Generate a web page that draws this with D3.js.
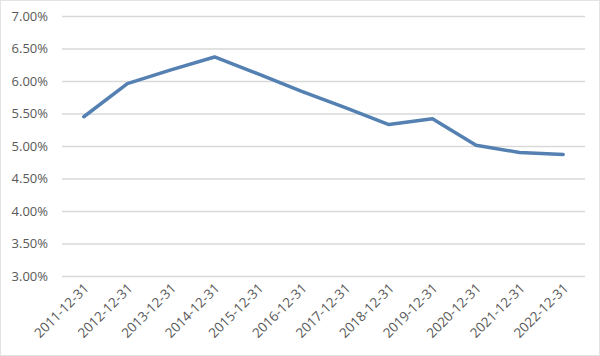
<!DOCTYPE html>
<html><head><meta charset="utf-8">
<script src="https://cdn.jsdelivr.net/npm/d3@7"></script>
<style>body{margin:0;background:#fff}svg{display:block}</style>
</head><body>
<script>
const categories = ["2011-12-31","2012-12-31","2013-12-31","2014-12-31","2015-12-31","2016-12-31","2017-12-31","2018-12-31","2019-12-31","2020-12-31","2021-12-31","2022-12-31"];
const values = [0.0545,0.0596,0.0617,0.0637,0.0611,0.0584,0.0559,0.0533,0.0542,0.0501,0.0490,0.0487];
const yTicks = [0.03,0.035,0.04,0.045,0.05,0.055,0.06,0.065,0.07];

const W=600,H=356;
const svg=d3.select("body").append("svg").attr("width",W).attr("height",H);
svg.append("rect").attr("x",0.5).attr("y",0.5).attr("width",W-1).attr("height",H-1).attr("fill","#fff").attr("stroke","#e3e3e3");
const L=62,R=585,T=16,B=276;
const x=d3.scaleBand().domain(categories).range([L,R]);
const y=d3.scaleLinear().domain([0.03,0.07]).range([B,T]);

const ya=svg.append("g").attr("transform",`translate(${L},0)`)
 .call(d3.axisLeft(y).tickValues(yTicks).tickFormat(d3.format(".2%")).tickSize(-(R-L)).tickPadding(14));
ya.select(".domain").remove();
ya.selectAll(".tick line").attr("stroke","#d9d9d9").attr("stroke-width",1.3);
ya.selectAll(".tick text").attr("fill","#595959").style("font-family","'Open Sans', sans-serif").style("font-size","13px");

const xa=svg.append("g").attr("transform",`translate(0,${B})`)
 .call(d3.axisBottom(x).tickSize(0).tickPadding(0));
xa.select(".domain").remove();
xa.selectAll(".tick text")
 .attr("fill","#595959").style("font-family","'Open Sans', sans-serif").style("font-size","13.5px")
 .attr("text-anchor","end").attr("dy",null).attr("y",0)
 .attr("transform","translate(6,13) rotate(-45)");

svg.append("path").datum(values)
 .attr("fill","none").attr("stroke","#5580b2").attr("stroke-width",3.5).attr("stroke-linejoin","round").attr("stroke-linecap","round")
 .attr("d",d3.line().x((d,i)=>x(categories[i])+x.bandwidth()/2).y(d=>y(d)));
</script>
</body></html>
